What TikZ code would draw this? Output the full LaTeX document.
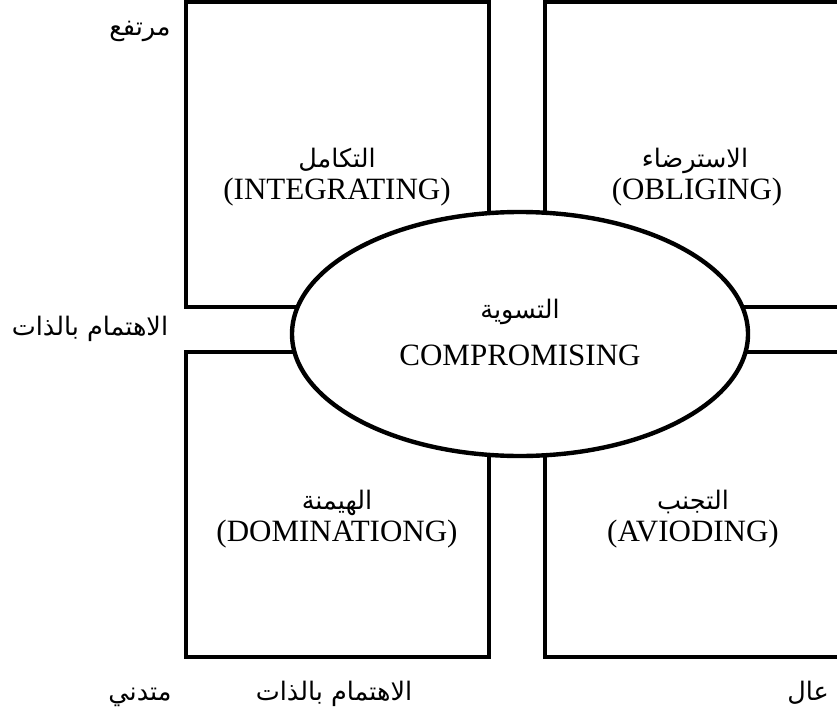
\documentclass[tikz,border=0pt]{standalone}
\usepackage{fontspec}
\setmainfont{Liberation Serif}
\newfontfamily\arabicfont[Script=Arabic]{DejaVu Sans}
\TeXXeTstate=1
\usetikzlibrary{shapes.geometric}
\tikzset{
  boxline/.style={line width=4.4pt, line join=miter},
  ar/.style={font=\arabicfont\fontsize{25.5}{30}\selectfont, inner sep=0pt, anchor=base},
  en/.style={font=\fontsize{31}{36}\selectfont, inner sep=0pt, anchor=base},
  oval/.style={ellipse, draw, line width=4.4pt, fill=white, minimum width=456pt, minimum height=244pt, inner sep=0pt}
}
\begin{document}
\begin{tikzpicture}[x=1pt,y=-1pt]
\useasboundingbox (0,0) rectangle (837,717);
% boxes
\draw[boxline] (186,2) rectangle (489,307);
\draw[boxline] (837,2) -- (545,2) -- (545,307) -- (837,307);
\draw[boxline] (186,352) rectangle (489,657);
\draw[boxline] (837,352) -- (545,352) -- (545,657) -- (837,657);
% central ellipse
\node[oval] (comp) at (520,334) {};
\node[ar] (compar) at (520,318) {\beginR التسوية\endR};
\node[en] (compen) at (520,365) {COMPROMISING};
% quadrant labels
\node[ar] (intar) at (337,167) {\beginR التكامل\endR};
\node[en] (inten) at (337,199) {(INTEGRATING)};
\node[ar] (oblar) at (695,167) {\beginR الاسترضاء\endR};
\node[en] (oblen) at (697,199) {(OBLIGING)};
\node[ar] (domar) at (337,509) {\beginR الهيمنة\endR};
\node[en] (domen) at (337,541) {(DOMINATIONG)};
\node[ar] (avoar) at (693,509) {\beginR التجنب\endR};
\node[en] (avoen) at (693,541) {(AVIODING)};
% axis labels
\node[ar] (high) at (140,36) {\beginR مرتفع\endR};
\node[ar] (selfl) at (90,335) {\beginR الاهتمام بالذات\endR};
\node[ar] (low) at (140,700) {\beginR متدني\endR};
\node[ar] (selfb) at (334,700) {\beginR الاهتمام بالذات\endR};
\node[ar] (hi2) at (808,700) {\beginR عال\endR};
\end{tikzpicture}
\end{document}
